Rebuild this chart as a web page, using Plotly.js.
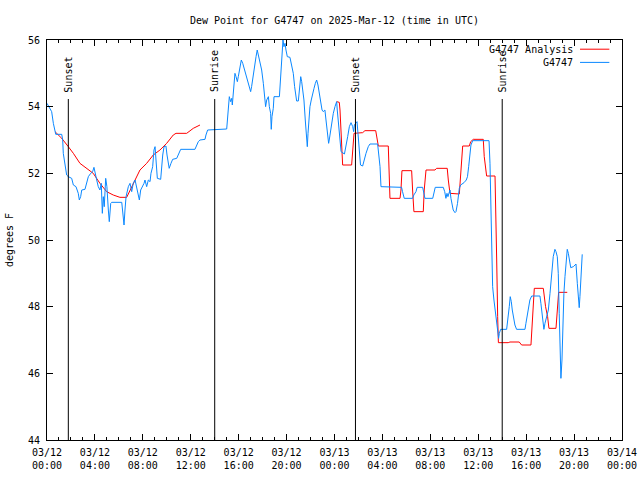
<!DOCTYPE html>
<html>
<head>
<meta charset="utf-8">
<script src="https://cdn.plot.ly/plotly-3.0.1.min.js"></script>
<style>html,body{margin:0;padding:0;background:#fff}#chart{width:640px;height:480px}</style>
</head>
<body>
<div id="chart"></div>
<script>
// Hours after 2025-03-12 00:00 UTC
const startDate = Date.UTC(2025, 2, 12, 0, 0);
const HOUR = 3600000;

const stationHours = [0.0,0.39,0.53,0.67,0.73,1.23,1.31,1.36,1.5,1.64,1.78,2.06,2.2,2.42,2.61,2.7,2.81,2.9,3.17,3.31,3.45,3.65,3.81,3.92,4.0,4.15,4.28,4.42,4.53,4.62,4.7,4.78,4.9,5.0,5.12,5.2,5.32,5.4,6.24,6.32,6.43,6.51,6.6,6.79,6.93,7.07,7.2,7.35,7.49,7.62,7.71,7.82,7.99,8.1,8.18,8.32,8.46,8.6,8.68,8.82,8.93,9.02,9.1,9.21,9.49,9.57,9.66,9.77,9.93,10.02,10.12,10.2,10.35,10.49,10.83,11.04,11.16,12.35,12.5,12.63,12.77,13.19,13.27,13.41,15.0,15.08,15.17,15.22,15.33,15.42,15.47,15.55,15.64,15.69,15.78,15.89,15.97,16.11,16.22,16.34,16.45,16.56,16.72,16.89,17.0,17.08,17.22,17.36,17.45,17.55,17.67,17.78,17.92,18.06,18.17,18.25,18.34,18.48,18.56,18.67,18.72,18.78,18.89,18.95,19.4,19.51,19.62,19.7,19.78,19.87,19.95,20.06,20.28,20.39,20.48,20.56,20.67,20.76,20.84,20.98,21.06,21.18,21.26,21.34,21.45,21.56,21.68,21.73,21.79,21.87,21.95,22.06,22.18,22.29,22.4,22.51,22.62,22.73,22.84,22.96,23.06,23.2,23.29,23.4,23.51,23.56,23.67,23.79,23.9,24.04,24.18,24.23,24.34,24.45,24.55,24.83,24.96,25.1,25.24,25.38,25.52,25.6,25.66,25.77,25.88,25.96,26.05,26.17,26.35,26.46,26.63,26.82,26.96,27.6,27.7,27.8,27.88,29.6,29.68,29.82,30.52,30.62,30.8,30.9,31.36,31.45,31.55,32.2,32.3,32.41,33.08,33.2,33.3,33.39,33.47,33.64,33.72,33.8,33.91,34.06,34.14,34.27,34.38,34.42,34.53,34.64,34.81,35.0,35.1,35.2,35.31,35.39,35.54,36.9,36.98,37.04,37.12,37.2,37.31,37.42,37.53,37.62,37.7,37.76,37.87,38.37,38.48,38.59,38.67,38.76,38.84,38.92,39.06,39.2,39.9,39.98,40.09,40.2,40.31,40.46,41.15,41.23,41.32,41.4,41.48,41.57,41.71,41.85,41.99,42.07,42.18,42.26,42.4,42.49,42.6,42.68,42.76,42.82,42.9,42.99,43.04,43.15,43.24,43.32,43.43,43.52,43.6,43.72,43.94,44.16,44.27,44.39,44.43,44.49,44.55,44.63,44.68];
const stationDewF = [54.1,53.85,53.5,53.3,53.17,53.17,53.0,52.6,52.2,51.95,51.9,51.85,51.65,51.6,51.4,51.2,51.3,51.5,51.52,51.7,51.9,52.0,52.05,52.18,52.0,51.8,51.6,51.5,51.7,50.8,51.3,51.0,51.85,51.6,50.9,50.55,51.1,51.13,51.13,50.9,50.45,50.9,51.3,51.6,51.7,51.45,51.7,51.8,51.6,51.4,51.2,51.5,51.6,51.7,51.8,51.6,51.8,51.75,52.0,52.2,52.7,52.8,52.4,51.85,51.82,52.3,52.55,52.8,52.82,52.55,52.3,52.15,52.3,52.42,52.45,52.6,52.72,52.72,52.85,52.95,53.0,53.02,53.15,53.3,53.33,53.8,54.2,54.3,54.15,54.25,54.05,54.45,54.8,55.0,54.9,54.75,54.9,55.2,55.4,55.3,55.15,55.0,54.8,54.6,54.45,54.6,55.0,55.4,55.5,55.7,55.5,55.3,55.1,54.7,54.2,54.0,54.2,54.3,54.0,53.8,53.32,53.7,53.95,54.3,54.3,54.9,55.5,56.0,55.8,55.9,55.7,55.5,55.48,55.3,55.1,55.0,54.6,54.3,54.17,54.17,54.5,54.9,54.75,54.5,54.2,53.6,53.0,52.8,53.2,53.7,54.0,54.2,54.45,54.55,54.7,54.8,54.65,54.4,54.2,53.9,53.85,53.9,53.6,53.2,52.9,53.0,53.3,53.6,53.8,54.0,54.15,53.9,53.4,53.0,52.65,52.58,52.8,53.1,53.4,53.52,53.4,53.25,53.45,53.52,53.55,53.2,52.8,52.25,52.22,52.4,52.6,52.8,52.88,52.88,52.6,52.2,51.6,51.58,51.45,51.25,51.25,51.35,51.45,51.58,51.58,51.4,51.25,51.25,51.4,51.58,51.58,51.45,51.25,51.4,51.3,51.5,51.25,51.05,50.9,50.82,50.85,51.1,51.4,51.55,51.65,51.68,51.72,51.8,51.9,52.2,52.6,52.85,52.98,52.98,52.3,50.9,49.4,48.6,48.2,47.85,47.5,47.2,47.05,47.2,47.32,47.32,47.6,48.0,48.3,48.15,47.9,47.7,47.45,47.32,47.32,47.5,47.7,48.0,48.2,48.32,48.32,48.1,47.8,47.4,47.32,47.5,47.7,47.9,48.4,48.8,49.15,49.5,49.72,49.65,49.5,49.0,47.8,46.45,45.85,46.4,47.3,48.4,48.9,49.22,49.72,49.6,49.4,49.17,49.2,49.28,48.7,48.2,47.97,48.3,48.8,49.35,49.57];

const analysisHours = [0.67,1.23,1.78,2.2,2.75,3.31,3.86,4.42,4.98,5.53,6.09,6.65,6.93,7.49,7.76,8.32,8.87,9.43,9.99,10.54,10.77,11.66,12.21,12.77,null,24.18,24.4,24.46,24.57,24.63,24.68,25.43,25.51,25.63,26.35,26.54,27.44,27.52,27.66,28.49,28.57,28.63,29.47,29.55,29.63,30.44,30.52,30.63,31.41,31.49,31.64,32.39,32.52,33.41,33.5,33.64,34.42,34.53,34.7,35.25,35.37,35.59,36.42,36.5,36.64,36.7,37.4,37.46,37.54,37.62,37.68,38.5,38.65,39.42,39.62,40.4,40.48,40.6,40.68,41.43,41.51,41.62,41.79,41.9,42.49,42.6,42.71,43.43];
const analysisDewF = [53.25,53.05,52.8,52.6,52.3,52.15,52.0,51.7,51.45,51.35,51.28,51.28,51.5,51.9,52.1,52.3,52.55,52.7,52.9,53.15,53.2,53.2,53.35,53.45,null,54.15,54.13,53.9,53.2,52.6,52.25,52.25,52.8,53.2,53.22,53.28,53.28,53.05,52.82,52.82,52.0,51.25,51.25,51.5,52.08,52.08,51.5,50.85,50.85,51.5,52.1,52.1,52.15,52.15,51.8,51.4,51.38,51.85,52.82,52.82,52.95,53.02,53.02,52.5,52.1,51.92,51.92,51.1,49.4,47.7,46.92,46.92,46.94,46.94,46.85,46.85,47.4,48.0,48.55,48.55,48.3,48.0,47.7,47.35,47.35,48.0,48.43,48.43];

const sunEventHours = [1.78, 14.0, 25.75, 38.0];
const sunEventLabels = ["Sunset", "Sunrise", "Sunset", "Sunrise"];
const sunLineTop = 54.23;

const yTicks = [44, 46, 48, 50, 52, 54, 56];

const toTime = h => (h === null ? null : startDate + h * HOUR);

const MONO = "DejaVu Sans Mono";
const RED = "#ff0000";
const BLUE = "#0a88ff";

const traces = [
  {
    x: analysisHours.map(toTime), y: analysisDewF, name: "G4747 Analysis",
    type: "scatter", mode: "lines", line: {color: RED, width: 1}, connectgaps: false
  },
  {
    x: stationHours.map(toTime), y: stationDewF, name: "G4747",
    type: "scatter", mode: "lines", line: {color: BLUE, width: 1}
  }
];

const shapes = sunEventHours.map(h => ({
  type: "line", xref: "x", yref: "y",
  x0: toTime(h), x1: toTime(h), y0: 44, y1: sunLineTop,
  line: {color: "black", width: 1}
}));
// legend samples
shapes.push({type: "line", xref: "paper", yref: "paper", x0: 0.927, x1: 0.978, y0: 0.977, y1: 0.977, line: {color: RED, width: 1}});
shapes.push({type: "line", xref: "paper", yref: "paper", x0: 0.927, x1: 0.978, y0: 0.944, y1: 0.944, line: {color: BLUE, width: 1}});

const annotations = sunEventHours.map((h, i) => ({
  x: toTime(h), y: sunLineTop + 0.14, xref: "x", yref: "y",
  text: sunEventLabels[i], textangle: -90, showarrow: false,
  xanchor: "center", yanchor: "bottom",
  font: {family: MONO, size: 10, color: "black"}
}));
annotations.push({x: 0.918, y: 0.977, xref: "paper", yref: "paper", text: traces[0].name, showarrow: false, xanchor: "right", yanchor: "middle", font: {family: MONO, size: 10, color: "black"}});
annotations.push({x: 0.918, y: 0.944, xref: "paper", yref: "paper", text: traces[1].name, showarrow: false, xanchor: "right", yanchor: "middle", font: {family: MONO, size: 10, color: "black"}});

const layout = {
  width: 640, height: 480,
  margin: {l: 47, r: 18, t: 40, b: 40, pad: 0},
  paper_bgcolor: "white", plot_bgcolor: "white",
  showlegend: false,
  font: {family: MONO, size: 10, color: "black"},
  title: {
    text: "Dew Point for G4747 on 2025-Mar-12 (time in UTC)",
    x: 0.5, xref: "paper", xanchor: "center",
    y: 0.958, yref: "container", yanchor: "middle",
    font: {family: MONO, size: 10, color: "black"}
  },
  xaxis: {
    type: "date",
    range: [startDate, startDate + 48 * HOUR],
    tick0: startDate, dtick: 4 * HOUR,
    tickformat: "%m/%d<br>%H:%M",
    ticks: "inside", ticklen: 6, tickwidth: 1, tickcolor: "black",
    ticklabelstandoff: 3,
    showline: true, linecolor: "black", linewidth: 1, mirror: "ticks",
    showgrid: false, zeroline: false,
    tickfont: {family: MONO, size: 10, color: "black"},
    minor: {dtick: HOUR, tick0: startDate, ticks: "inside", ticklen: 3, tickcolor: "black", tickwidth: 1, showgrid: false}
  },
  yaxis: {
    range: [44, 56],
    tickmode: "array", tickvals: yTicks, ticktext: yTicks.map(String),
    ticks: "inside", ticklen: 6, tickwidth: 1, tickcolor: "black",
    ticklabelstandoff: 4,
    showline: true, linecolor: "black", linewidth: 1, mirror: "ticks",
    showgrid: false, zeroline: false,
    tickfont: {family: MONO, size: 10, color: "black"},
    title: {text: "degrees F", standoff: 12, font: {family: MONO, size: 10, color: "black"}}
  },
  shapes: shapes,
  annotations: annotations
};

Plotly.newPlot("chart", traces, layout, {staticPlot: true, displayModeBar: false});
</script>
</body>
</html>
